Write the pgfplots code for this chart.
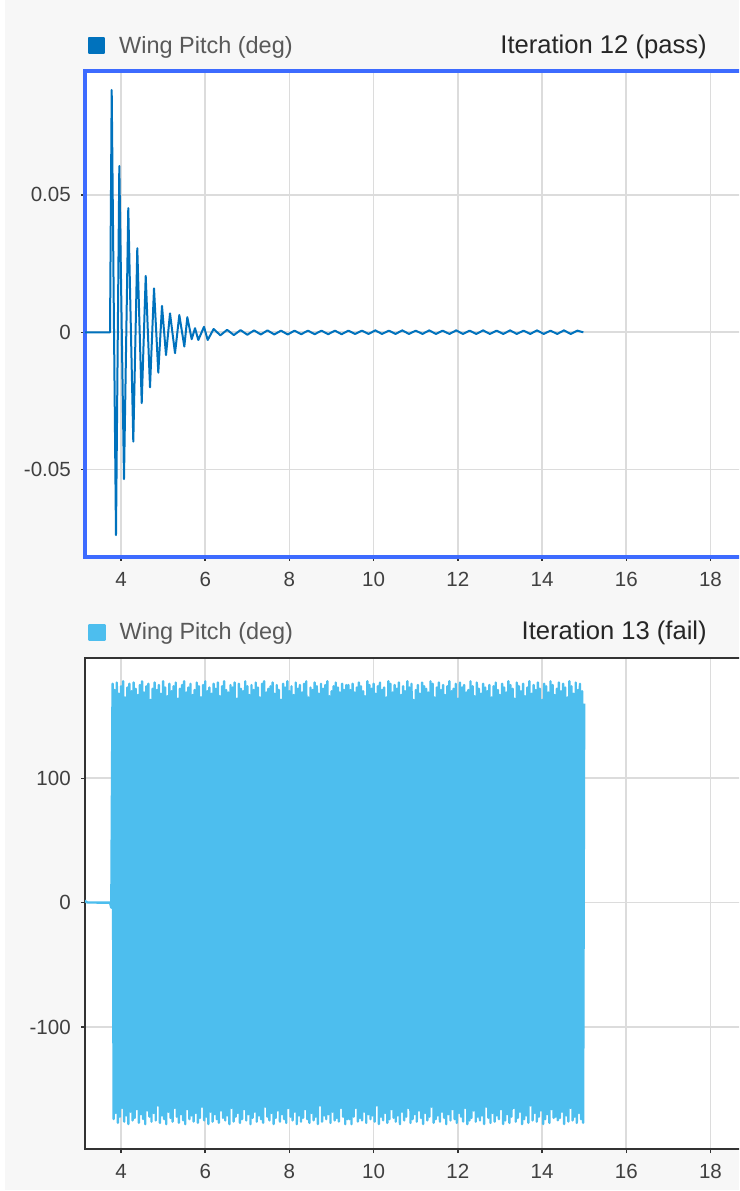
\documentclass[border=0pt]{standalone}
\usepackage{fontspec}
\setmainfont{Liberation Sans}
\usepackage{pgfplots}
\pgfplotsset{compat=1.18}
\definecolor{bgc}{HTML}{F7F7F7}
\definecolor{gridc}{HTML}{DCDCDC}
\definecolor{selblue}{HTML}{3D6BFF}
\definecolor{darkblue}{HTML}{0072BD}
\definecolor{lightblue}{HTML}{4DBEEE}
\definecolor{titlec}{HTML}{262626}
\definecolor{legc}{HTML}{595959}
\definecolor{tickc}{HTML}{404040}
\definecolor{axisc}{HTML}{333333}
\pgfplotsset{
  panel/.style={
    scale only axis, width=495pt,
    xmin=3.145, xmax=18.82,
    xtick={4,6,...,18}, xticklabels={4,6,8,10,12,14,16,18},
    scaled y ticks=false, scaled x ticks=false,
    grid=major, major grid style={gridc, line width=1.2pt},
    tick align=outside, xtick pos=bottom, ytick pos=left,
    major tick length=3pt,
    tick style={axisc, line width=1.1pt},
    /pgf/number format/assume math mode=true,
    ticklabel style={font=\fontsize{15.4}{18}\selectfont, text=tickc},
    xticklabel style={anchor=north, inner sep=0pt, yshift=-8.5pt},
    yticklabel style={anchor=east, inner sep=0pt, xshift=-7.5pt},
    axis background/.style={fill=white},
    title style={at={(0.9424,1)}, anchor=base east, yshift=7.3pt, inner sep=0pt,
      font=\fontsize{19.2}{22}\selectfont, text=titlec},
    legend style={at={(0.0045,1)}, anchor=west, yshift=18.8pt, draw=none, fill=none,
      inner sep=0pt, font=\fontsize{17.6}{20}\selectfont, text=legc,
      column sep=10.5pt, nodes={inner sep=0pt}},
    legend image code/.code={\fill[#1] (0pt,-5.6pt) rectangle (11.25pt,5.6pt);},
  }
}
\begin{document}
\begin{tikzpicture}
\useasboundingbox (0pt,0pt) rectangle (554.25pt,-893.25pt);
\clip (0pt,0pt) rectangle (554.25pt,-893.25pt);
\fill[white] (0pt,0pt) rectangle (554.25pt,-893.25pt);
\fill[bgc] (3.75pt,0pt) rectangle (554.25pt,-892.5pt);

\begin{axis}[panel, at={(63.75pt,-53.25pt)}, anchor=north west,
  height=364.125pt, ymin=-0.0816, ymax=0.0951,
  ytick={-0.05,0,0.05}, yticklabels={-0.05,0,0.05},
  axis line style={selblue, line width=3pt},
  title={Iteration 12 (pass)}]
\addplot[darkblue, line width=1.5pt, line join=round] coordinates {
(3.0,0) (3.739,0) (3.779,0.0882) (3.881,-0.0738) (3.960,0.0605) (4.071,-0.0534)
(4.173,0.0452) (4.292,-0.0398) (4.387,0.0306) (4.492,-0.0258) (4.587,0.0205)
(4.689,-0.0200) (4.784,0.0160) (4.886,-0.0147) (4.974,0.0096) (5.069,-0.0083)
(5.164,0.0069) (5.283,-0.0076) (5.385,0.0063) (5.504,-0.0052) (5.575,0.0055)
(5.679,-0.0025) (5.758,0.0015) (5.836,-0.0028) (5.971,0.0020) (6.059,-0.0028)
(6.20,0.0012) (6.36,-0.0011) (6.52,0.0009) (6.68,-0.0010) (6.84,0.0008)
(7.00,-0.0009) (7.16,0.0007) (7.32,-0.0008) (7.48,0.0007) (7.64,-0.0008)
(7.80,0.0006) (7.96,-0.0008) (8.12,0.0006) (8.28,-0.0007) (8.44,0.0006)
(8.60,-0.0007) (8.76,0.0006) (8.92,-0.0007) (9.08,0.0006) (9.24,-0.0007)
(9.40,0.0006) (9.56,-0.0006) (9.72,0.0006) (9.88,-0.0006) (10.04,0.0007)
(10.20,-0.0006) (10.36,0.0006) (10.52,-0.0006) (10.68,0.0007) (10.84,-0.0006)
(11.00,0.0006) (11.16,-0.0006) (11.32,0.0007) (11.48,-0.0006) (11.64,0.0006)
(11.80,-0.0006) (11.96,0.0007) (12.12,-0.0006) (12.28,0.0006) (12.44,-0.0006)
(12.60,0.0007) (12.76,-0.0006) (12.92,0.0006) (13.08,-0.0006) (13.24,0.0007)
(13.40,-0.0006) (13.56,0.0006) (13.72,-0.0006) (13.88,0.0007) (14.04,-0.0006)
(14.20,0.0006) (14.36,-0.0006) (14.52,0.0007) (14.68,-0.0006) (14.84,0.0006)
(14.98,0.0000)
};
\addlegendentry{Wing Pitch (deg)}
\end{axis}

\begin{axis}[panel, at={(63.75pt,-493.125pt)}, anchor=north west,
  height=368.625pt, ymin=-198, ymax=197.1,
  ytick={-100,0,100}, yticklabels={-100,0,100},
  axis line style={axisc, line width=1.5pt},
  title={Iteration 13 (fail)}]
\addplot[lightblue, line width=1.8pt, line join=round] coordinates {
(3.0,0.5) (3.14,1.5) (3.20,0.2) (3.74,0.0) (3.77,-4)
(3.800,176) (3.825,-174) (3.850,171) (3.875,-169) (3.900,177) (3.925,-177) (3.950,168) (3.975,-172)
(4.000,174) (4.025,-165) (4.050,178) (4.075,-176) (4.100,165) (4.125,-171) (4.150,173) (4.175,-178)
(4.200,176) (4.225,-168) (4.250,170) (4.275,-175) (4.300,177) (4.325,-173) (4.350,172) (4.375,-166)
(4.400,167) (4.425,-177) (4.450,175) (4.475,-170) (4.500,178) (4.525,-174) (4.550,169) (4.575,-178)
(4.600,174) (4.625,-167) (4.650,176) (4.675,-172) (4.700,163) (4.725,-176) (4.750,172) (4.775,-169)
(4.800,177) (4.825,-175) (4.850,171) (4.875,-163) (4.900,175) (4.925,-177) (4.950,168) (4.975,-171)
(5.000,178) (5.025,-174) (5.050,173) (5.075,-178) (5.100,166) (5.125,-168) (5.150,176) (5.175,-173)
(5.200,170) (5.225,-176) (5.250,174) (5.275,-165) (5.300,177) (5.325,-172) (5.350,164) (5.375,-177)
(5.400,172) (5.425,-170) (5.450,175) (5.475,-175) (5.500,178) (5.525,-178) (5.550,169) (5.575,-166)
(5.600,173) (5.625,-174) (5.650,176) (5.675,-171) (5.700,167) (5.725,-176) (5.750,171) (5.775,-169)
(5.800,177) (5.825,-177) (5.850,174) (5.875,-173) (5.900,165) (5.925,-164) (5.950,175) (5.975,-175)
(6.000,178) (6.025,-172) (6.050,170) (6.075,-178) (6.100,173) (6.125,-168) (6.150,168) (6.175,-176)
(6.200,176) (6.225,-170) (6.250,172) (6.275,-174) (6.300,177) (6.325,-177) (6.350,166) (6.375,-167)
(6.400,174) (6.425,-173) (6.450,178) (6.475,-175) (6.500,171) (6.525,-171) (6.550,169) (6.575,-178)
(6.600,175) (6.625,-165) (6.650,173) (6.675,-176) (6.700,177) (6.725,-172) (6.750,164) (6.775,-169)
(6.800,176) (6.825,-177) (6.850,172) (6.875,-174) (6.900,170) (6.925,-166) (6.950,178) (6.975,-175)
(7.000,174) (7.025,-170) (7.050,167) (7.075,-178) (7.100,175) (7.125,-173) (7.150,171) (7.175,-168)
(7.200,177) (7.225,-176) (7.250,173) (7.275,-171) (7.300,165) (7.325,-174) (7.350,176) (7.375,-177)
(7.400,178) (7.425,-164) (7.450,169) (7.475,-172) (7.500,172) (7.525,-175) (7.550,174) (7.575,-169)
(7.600,177) (7.625,-178) (7.650,168) (7.675,-173) (7.700,175) (7.725,-167) (7.750,171) (7.775,-176)
(7.800,163) (7.825,-170) (7.850,176) (7.875,-174) (7.900,173) (7.925,-177) (7.950,178) (7.975,-165)
(8.000,170) (8.025,-172) (8.050,174) (8.075,-175) (8.100,167) (8.125,-168) (8.150,177) (8.175,-178)
(8.200,172) (8.225,-171) (8.250,175) (8.275,-176) (8.300,169) (8.325,-173) (8.350,176) (8.375,-166)
(8.400,178) (8.425,-174) (8.450,165) (8.475,-177) (8.500,173) (8.525,-169) (8.550,171) (8.575,-175)
(8.600,177) (8.625,-172) (8.650,174) (8.675,-178) (8.700,168) (8.725,-163) (8.750,176) (8.775,-176)
(8.800,172) (8.825,-171) (8.850,175) (8.875,-174) (8.900,178) (8.925,-170) (8.950,166) (8.975,-177)
(9.000,170) (9.025,-168) (9.050,174) (9.075,-175) (9.100,177) (9.125,-173) (9.150,173) (9.175,-176)
(9.200,169) (9.225,-165) (9.250,176) (9.275,-172) (9.300,171) (9.325,-178) (9.350,175) (9.375,-174)
(9.400,175) (9.425,-174) (9.450,171) (9.475,-178) (9.500,176) (9.525,-172) (9.550,169) (9.575,-165)
(9.600,173) (9.625,-176) (9.650,177) (9.675,-173) (9.700,174) (9.725,-175) (9.750,170) (9.775,-168)
(9.800,166) (9.825,-177) (9.850,178) (9.875,-170) (9.900,175) (9.925,-174) (9.950,172) (9.975,-171)
(10.000,176) (10.025,-176) (10.050,168) (10.075,-163) (10.100,174) (10.125,-178) (10.150,177) (10.175,-172)
(10.200,171) (10.225,-175) (10.250,173) (10.275,-169) (10.300,165) (10.325,-177) (10.350,178) (10.375,-174)
(10.400,176) (10.425,-166) (10.450,169) (10.475,-173) (10.500,175) (10.525,-176) (10.550,172) (10.575,-171)
(10.600,177) (10.625,-178) (10.650,167) (10.675,-168) (10.700,174) (10.725,-175) (10.750,170) (10.775,-172)
(10.800,178) (10.825,-165) (10.850,173) (10.875,-177) (10.900,176) (10.925,-174) (10.950,163) (10.975,-170)
(11.000,171) (11.025,-176) (11.050,175) (11.075,-167) (11.100,168) (11.125,-173) (11.150,177) (11.175,-178)
(11.200,174) (11.225,-169) (11.250,172) (11.275,-175) (11.300,169) (11.325,-172) (11.350,178) (11.375,-164)
(11.400,176) (11.425,-177) (11.450,165) (11.475,-174) (11.500,173) (11.525,-171) (11.550,177) (11.575,-176)
(11.600,171) (11.625,-168) (11.650,175) (11.675,-173) (11.700,167) (11.725,-178) (11.750,174) (11.775,-170)
(11.800,178) (11.825,-175) (11.850,170) (11.875,-166) (11.900,172) (11.925,-174) (11.950,176) (11.975,-177)
(12.000,164) (12.025,-169) (12.050,177) (12.075,-172) (12.100,173) (12.125,-176) (12.150,175) (12.175,-165)
(12.200,169) (12.225,-178) (12.250,171) (12.275,-175) (12.300,178) (12.325,-173) (12.350,174) (12.375,-167)
(12.400,166) (12.425,-176) (12.450,177) (12.475,-172) (12.500,172) (12.525,-175) (12.550,168) (12.575,-171)
(12.600,176) (12.625,-178) (12.650,173) (12.675,-164) (12.700,170) (12.725,-173) (12.750,175) (12.775,-177)
(12.800,165) (12.825,-169) (12.850,174) (12.875,-176) (12.900,177) (12.925,-171) (12.950,171) (12.975,-174)
(13.000,167) (13.025,-166) (13.050,176) (13.075,-178) (13.100,173) (13.125,-175) (13.150,169) (13.175,-170)
(13.200,178) (13.225,-177) (13.250,175) (13.275,-172) (13.300,172) (13.325,-165) (13.350,164) (13.375,-176)
(13.400,177) (13.425,-173) (13.450,174) (13.475,-168) (13.500,170) (13.525,-178) (13.550,176) (13.575,-174)
(13.600,166) (13.625,-171) (13.650,173) (13.675,-177) (13.700,178) (13.725,-163) (13.750,168) (13.775,-175)
(13.800,175) (13.825,-169) (13.850,171) (13.875,-176) (13.900,177) (13.925,-172) (13.950,172) (13.975,-167)
(14.000,163) (14.025,-178) (14.050,176) (14.075,-174) (14.100,174) (14.125,-170) (14.150,169) (14.175,-177)
(14.200,178) (14.225,-166) (14.250,175) (14.275,-173) (14.300,167) (14.325,-172) (14.350,172) (14.375,-175)
(14.400,177) (14.425,-173) (14.450,170) (14.475,-168) (14.500,176) (14.525,-178) (14.550,173) (14.575,-171)
(14.600,165) (14.625,-176) (14.650,178) (14.675,-165) (14.700,174) (14.725,-175) (14.750,168) (14.775,-172)
(14.800,177) (14.825,-177) (14.850,171) (14.875,-169) (14.900,176) (14.925,-174) (14.950,170) (14.975,-177)
(15.000,160)
};
\addlegendentry{Wing Pitch (deg)}
\end{axis}
\end{tikzpicture}
\end{document}
